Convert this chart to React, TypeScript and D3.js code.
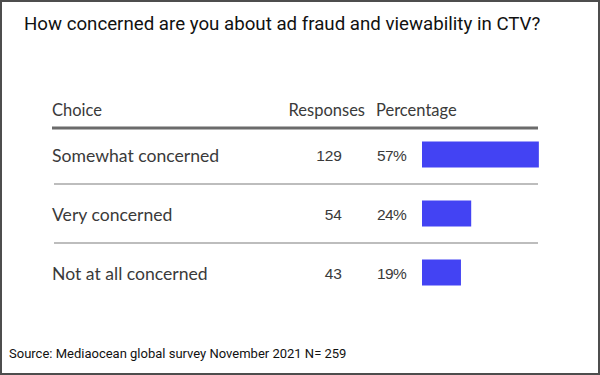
import React from 'react';
import * as d3 from 'd3';

const choices = ['Somewhat concerned', 'Very concerned', 'Not at all concerned'];
const responses = [129, 54, 43];
const percentages = [57, 24, 19];
const headers = ['Choice', 'Responses', 'Percentage'];
const title = 'How concerned are you about ad fraud and viewability in CTV?';
const source = 'Source: Mediaocean global survey November 2021 N= 259';

const W = 600;
const H = 375;
const tableFont = 'Lato, "Open Sans", sans-serif';
const textColor = '#3a3a3a';

const App: React.FC = () => {
  // rows laid out with a band scale, bars with a linear scale
  const y = d3.scaleBand<string>().domain(choices).range([125, 302]).paddingInner(0.56).paddingOuter(0.28);
  const x = d3.scaleLinear().domain([0, 100]).range([0, 205]);
  const barX = 422;
  const rowMid = (c: string) => (y(c) ?? 0) + y.bandwidth() / 2;
  const step = y.step();

  return (
    <svg width={W} height={H} style={{ position: 'absolute', left: 0, top: 0, background: '#fff' }}>
      <rect x={1} y={1} width={W - 2} height={H - 2} fill="#fff" stroke="#4d4d4d" strokeWidth={2} />
      <text x={24} y={30} fontFamily="Roboto, sans-serif" fontSize={18.7} fill="#111">
        {title}
      </text>

      {/* header */}
      <g fontFamily={tableFont} fontSize={16.5} fill={textColor}>
        <text x={52} y={116}>{headers[0]}</text>
        <text x={365} y={116} textAnchor="end">{headers[1]}</text>
        <text x={376} y={116}>{headers[2]}</text>
      </g>
      <line x1={52} x2={538} y1={128} y2={128} stroke="#6b6b6b" strokeWidth={3} />

      {choices.map((c, i) => (
        <g key={c}>
          <text x={52} y={rowMid(c) + 1} dy="0.35em" fontFamily={tableFont} fontSize={17.6} fill={textColor}>
            {c}
          </text>
          <text x={342} y={rowMid(c) + 1} dy="0.35em" textAnchor="end" fontFamily='"Liberation Sans Narrow", sans-serif' fontSize={15.5} fill={textColor}>
            {responses[i]}
          </text>
          <text x={377} y={rowMid(c) + 1} dy="0.35em" fontFamily='"Liberation Sans Narrow", sans-serif' fontSize={15.5} fill={textColor} letterSpacing={-0.6}>
            {percentages[i]}%
          </text>
          <rect x={barX} y={rowMid(c) - 13} width={x(percentages[i])} height={26} fill="#4343f3" />
          {i < choices.length - 1 && (
            <line x1={54} x2={538} y1={rowMid(c) + step / 2} y2={rowMid(c) + step / 2} stroke="#bdbdbd" strokeWidth={2} />
          )}
        </g>
      ))}

      <text x={9} y={358} fontFamily="Roboto, sans-serif" fontSize={13} fill="#111">
        {source}
      </text>
    </svg>
  );
};

export default App;
